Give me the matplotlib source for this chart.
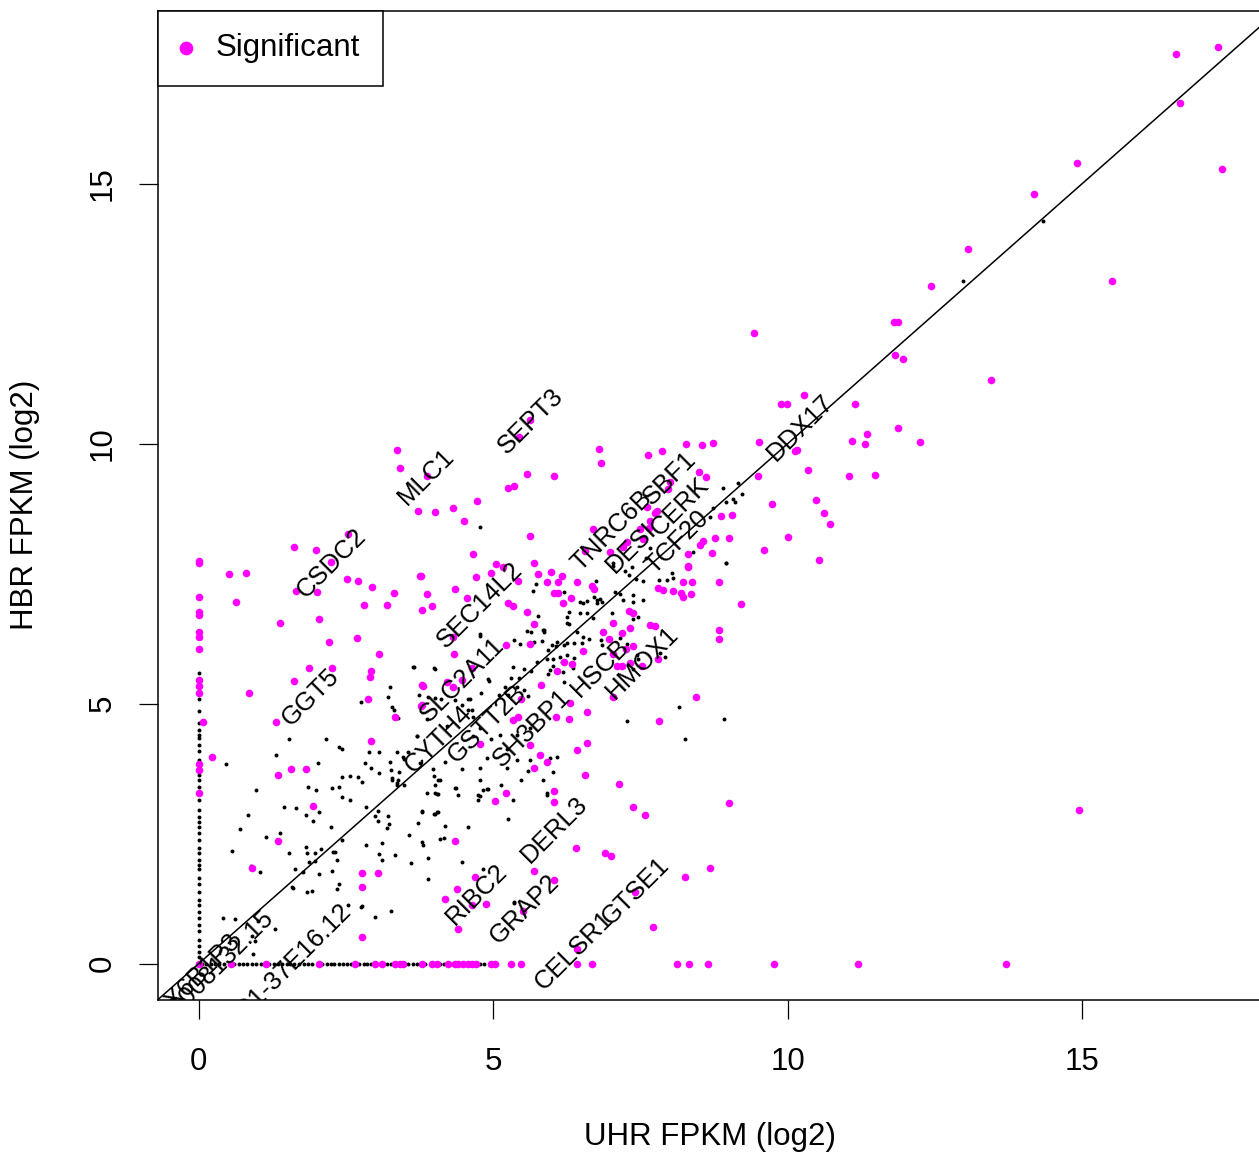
import matplotlib
matplotlib.use("Agg")
import matplotlib.pyplot as plt

plt.rcParams['font.family'] = ['Liberation Sans', 'DejaVu Sans']

# ================= data (log2 FPKM: UHR, HBR) =================
# ---- significant genes (magenta), (x, y) pairs by region ----
sig_upper_right = [(16.59, 17.50), (17.30, 17.63), (16.66, 16.56), (17.37, 15.29), (14.92, 15.40),
                   (14.18, 14.81), (13.06, 13.75), (12.43, 13.04), (15.50, 13.12), (9.42, 12.12),
                   (11.80, 12.33), (11.87, 12.33), (11.83, 11.71), (11.95, 11.63), (13.45, 11.23),
                   (10.27, 10.94), (9.88, 10.77), (9.98, 10.77), (11.15, 10.77), (11.88, 10.31),
                   (12.24, 10.04), (11.34, 10.19), (11.32, 10.0), (11.09, 10.06), (9.52, 10.04),
                   (10.15, 9.88), (10.34, 9.50), (11.49, 9.40), (11.04, 9.37), (9.49, 9.37),
                   (10.48, 8.92), (10.62, 8.67), (10.72, 8.46), (9.73, 8.83), (10.0, 8.21),
                   (9.59, 7.96), (10.53, 7.77), (9.20, 6.92), (8.83, 7.33), (8.83, 6.42),
                   (8.83, 6.25), (8.44, 5.13), (9.0, 3.08), (8.68, 1.83), (8.25, 1.67), (14.94, 2.96)]
sig_left = [(0.08, 4.65), (0.22, 3.98), (0.51, 7.50), (0.80, 7.52), (0.63, 6.96), (1.38, 6.56),
            (1.61, 8.02), (1.99, 7.96), (1.66, 7.17), (2.0, 7.15), (2.24, 7.73), (2.53, 8.27),
            (2.05, 6.62), (2.21, 6.19), (2.51, 7.40), (2.70, 7.35), (2.95, 7.25), (3.31, 7.12),
            (2.80, 6.90), (3.19, 6.90), (2.68, 6.27), (3.06, 5.96), (3.77, 7.46), (3.87, 7.10),
            (3.79, 6.81), (3.96, 6.87), (3.72, 8.71), (4.02, 8.69), (1.87, 5.69), (2.26, 5.69),
            (1.61, 5.44), (0.85, 5.21), (1.32, 4.65), (2.92, 5.62), (2.90, 5.52), (2.87, 5.08),
            (3.34, 4.75), (3.79, 5.35), (3.77, 4.96), (2.92, 4.29), (1.34, 3.62), (1.56, 3.75),
            (1.82, 3.75), (1.94, 3.04), (0.90, 1.83), (1.34, 2.35), (2.77, 1.75), (3.04, 1.75),
            (2.77, 0.52), (2.78, 1.48)]
sig_upper_mid = [(3.36, 9.87), (3.41, 9.54), (3.87, 9.37), (4.31, 8.77), (4.50, 8.52), (4.72, 8.90),
                 (4.65, 7.87), (4.35, 7.21), (5.43, 10.13), (5.62, 10.46), (5.25, 9.15), (5.35, 9.19),
                 (5.57, 9.42), (6.03, 9.37), (5.62, 8.23), (6.69, 8.35), (6.79, 9.90), (6.83, 9.63),
                 (7.62, 9.79), (7.86, 9.85), (8.27, 10.0), (8.54, 9.98), (8.73, 10.02), (10.12, 9.85),
                 (8.49, 9.46), (8.61, 9.35), (8.0, 9.27), (7.96, 9.13), (7.61, 8.79), (7.74, 8.67),
                 (7.78, 8.71), (7.66, 8.52), (7.64, 8.38), (7.49, 8.35), (7.54, 8.17), (7.28, 8.10),
                 (7.20, 8.02), (6.55, 7.94), (6.98, 7.92), (8.86, 8.60), (9.05, 8.63), (8.76, 8.19),
                 (9.0, 8.19), (8.56, 8.12), (8.51, 8.06), (8.71, 7.90), (8.30, 7.87), (8.30, 7.65)]
sig_mid = [(5.04, 7.69), (5.16, 7.63), (5.70, 7.71), (4.96, 7.52), (5.76, 7.50), (5.98, 7.54),
           (6.16, 7.46), (4.70, 7.44), (5.42, 7.35), (5.91, 7.33), (6.10, 7.33), (6.43, 7.33),
           (6.67, 7.27), (6.71, 7.21), (6.04, 7.13), (6.10, 7.13), (4.55, 7.04), (6.32, 7.04),
           (6.18, 6.94), (5.25, 6.94), (5.33, 6.88), (5.57, 6.77), (5.70, 6.54), (7.30, 6.79),
           (7.37, 6.75), (7.03, 6.56), (6.86, 6.37), (7.18, 6.35), (7.33, 6.46), (7.66, 6.52),
           (7.74, 6.50), (6.96, 6.25), (7.37, 6.10), (7.25, 6.06), (5.21, 6.12), (5.62, 6.15),
           (6.52, 6.02), (7.10, 5.73), (7.18, 5.73), (7.33, 5.79), (7.52, 5.73), (7.79, 5.85),
           (7.03, 5.96), (6.20, 5.81), (6.33, 5.77), (6.08, 5.63), (7.79, 7.23), (7.89, 7.19),
           (8.06, 7.17), (8.18, 7.13), (8.22, 7.33), (8.37, 7.33), (8.30, 7.63), (8.22, 7.06),
           (8.35, 7.10), (7.81, 4.67), (5.81, 5.35), (7.03, 5.13), (6.30, 5.02), (6.59, 4.83),
           (6.06, 4.75), (6.28, 4.71), (5.42, 4.75), (5.33, 4.69), (4.77, 4.23), (5.62, 4.21),
           (6.60, 4.25), (6.43, 4.10), (5.79, 4.02), (5.91, 3.87), (5.69, 3.77), (6.55, 3.63),
           (3.75, 7.46), (4.31, 6.29), (4.33, 5.96), (3.80, 5.33), (4.31, 5.31), (4.47, 5.46),
           (4.21, 5.42), (3.79, 4.98), (5.47, 5.08), (4.64, 5.69)]
sig_low_mid = [(7.13, 3.46), (6.04, 3.31), (6.03, 3.10), (5.21, 3.29), (5.03, 3.12), (7.37, 3.02),
               (7.57, 2.85), (4.35, 2.35), (6.40, 2.23), (6.89, 2.13), (7.0, 2.06), (5.70, 1.79),
               (6.04, 1.60), (4.69, 1.67), (4.38, 1.44), (4.18, 1.25), (4.87, 1.15), (4.64, 1.12),
               (4.41, 0.67), (7.40, 1.37), (7.71, 0.71), (6.42, 0.29), (5.50, 1.02)]
# significant genes not detected in HBR (y = 0) / not detected in UHR (x = 0)
sig_row0_x = [0.0, 0.54, 1.14, 2.04, 2.65, 3.0, 3.12, 3.34, 3.41, 3.46, 3.79, 3.96, 4.04, 4.23, 4.35,
              4.41, 4.48, 4.57, 4.64, 4.70, 4.97, 5.03, 5.31, 5.48, 6.42, 6.67, 8.12, 8.32, 8.64,
              9.76, 11.19, 13.7]
sig_col0_y = [7.75, 7.71, 7.06, 6.77, 6.71, 6.38, 6.29, 6.06, 5.46, 5.33, 5.21, 3.83, 3.73, 3.29]

# ---- non-significant genes (black) ----
ns_col0_y = [5.58, 5.08, 4.85, 4.63, 4.50, 4.40, 4.33, 4.21, 4.08, 3.92, 3.63, 3.54, 3.40, 3.15, 2.96,
             2.81, 2.73, 2.62, 2.52, 2.38, 2.23, 2.13, 2.0, 1.90, 1.81, 1.65, 1.54, 1.38, 1.23, 1.13,
             1.0, 0.88, 0.75, 0.62, 0.46, 0.33, 0.23, 0.12, 0.0]
ns_row0_x = [0.05, 0.12, 0.20, 0.28, 0.35, 0.43, 0.60, 0.68, 0.75, 0.82, 0.90, 0.97, 1.05, 1.10, 1.20,
             1.28, 1.35, 1.42, 1.50, 1.55, 1.62, 1.70, 1.78, 1.85, 1.92, 2.10, 2.18, 2.25, 2.30, 2.38,
             2.45, 2.52, 2.58, 2.72, 2.80, 2.86, 2.92, 3.07, 3.20, 3.27, 3.50, 3.56, 3.63, 3.70, 3.85,
             4.10, 4.17, 4.30, 4.62, 4.78, 4.85, 5.30]
ns_low = [(14.33, 14.29), (12.97, 13.12), (0.41, 0.88), (1.29, 0.67), (0.95, 0.44), (1.0, 0.81),
          (1.58, 1.48), (1.83, 1.37), (1.92, 1.40), (2.34, 1.44), (2.38, 1.54), (2.53, 1.12),
          (2.77, 1.10), (3.0, 0.90), (3.26, 1.02), (5.35, 1.17), (0.92, 0.19), (0.90, 0.54),
          (3.87, 3.29), (4.04, 3.27), (4.02, 3.44), (4.36, 3.37), (4.40, 3.25), (4.77, 3.23),
          (4.75, 3.15), (4.82, 3.33), (4.91, 3.35), (5.13, 3.44), (5.33, 3.15), (5.91, 3.25),
          (3.79, 2.92), (3.99, 2.88), (4.04, 2.92), (4.18, 2.65), (4.57, 2.62), (5.25, 2.79),
          (3.79, 2.33), (4.09, 2.40), (4.16, 2.42), (3.89, 2.04), (4.47, 1.96), (3.89, 1.63),
          (4.82, 1.81), (5.36, 1.19), (0.61, 0.85), (2.75, 1.08)]
ns_left = [(3.65, 5.71), (4.02, 5.67), (3.24, 5.31), (3.21, 5.13), (2.75, 5.04), (3.29, 4.94),
           (3.31, 4.88), (1.53, 4.31), (2.16, 4.31), (2.39, 4.17), (3.70, 4.38), (3.74, 5.17),
           (3.90, 5.12), (3.87, 4.71), (1.32, 4.02), (0.46, 3.83), (2.43, 4.13), (2.89, 4.06),
           (3.06, 4.06), (3.38, 4.73), (4.01, 5.10), (4.11, 5.08), (3.55, 4.06), (3.48, 3.94),
           (3.24, 3.87), (2.82, 3.85), (2.92, 3.77), (3.06, 3.67), (3.26, 3.73), (3.40, 3.69),
           (3.29, 3.56), (3.38, 3.54), (2.02, 3.85), (2.43, 3.58), (2.56, 3.60), (2.70, 3.58),
           (2.77, 3.50), (2.38, 3.40), (2.26, 3.37), (1.85, 3.40), (1.99, 3.33), (0.97, 3.33),
           (2.43, 3.21), (2.56, 3.15), (3.36, 3.44), (3.48, 3.44), (3.75, 3.85), (4.06, 3.27),
           (1.44, 3.02), (1.66, 3.0), (1.82, 2.85), (1.94, 2.75), (2.04, 2.92), (2.84, 3.02),
           (3.04, 2.94), (2.99, 2.83), (3.04, 2.75), (3.21, 2.83), (3.23, 2.69), (3.19, 2.60),
           (3.79, 2.94), (4.01, 2.87), (3.72, 2.71), (0.83, 2.85), (0.70, 2.58), (1.14, 2.44),
           (1.38, 2.52), (2.24, 2.63), (2.44, 2.38), (3.57, 2.48), (3.80, 2.29), (0.56, 2.17),
           (1.53, 2.12), (1.82, 2.25), (1.83, 2.12), (1.97, 2.13), (2.07, 2.21), (1.88, 1.96),
           (1.97, 1.98), (2.28, 2.15), (2.31, 2.15), (2.34, 2.0), (2.84, 2.29), (3.11, 2.31),
           (3.06, 2.10), (3.12, 2.0), (3.34, 2.08), (3.60, 1.94), (1.63, 1.81), (1.77, 1.77),
           (2.05, 1.73), (2.26, 1.79), (1.04, 1.77), (0.88, 1.88), (1.60, 1.46)]
ns_mid = [(5.72, 7.31), (5.67, 7.17), (6.21, 7.15), (6.74, 7.35), (7.03, 7.71), (7.30, 7.48),
          (7.35, 7.63), (7.42, 7.40), (7.54, 7.35), (8.03, 7.52), (8.06, 7.42), (7.81, 7.37),
          (7.95, 7.38), (8.95, 7.71), (6.47, 6.96), (6.52, 6.94), (6.60, 6.98), (6.76, 6.94),
          (6.77, 7.0), (6.84, 6.96), (6.28, 6.77), (6.47, 6.75), (6.59, 6.75), (6.71, 7.06),
          (7.15, 7.10), (7.20, 7.0), (7.37, 7.08), (7.37, 6.96), (7.54, 7.0), (6.26, 6.67),
          (6.28, 6.54), (7.01, 6.75), (6.69, 6.65), (7.37, 6.63), (7.45, 6.67), (6.42, 6.37),
          (6.52, 6.29), (6.50, 6.17), (6.62, 6.25), (6.37, 6.17), (6.21, 6.13), (6.25, 6.17),
          (6.08, 6.19), (6.06, 6.10), (5.99, 6.13), (5.93, 6.04), (5.82, 6.21), (5.87, 6.37),
          (5.86, 6.42), (5.65, 6.38), (5.57, 6.40), (5.70, 6.19), (5.45, 6.15), (5.36, 6.23),
          (5.33, 5.71), (5.31, 5.50), (5.53, 5.67), (5.64, 5.62), (5.43, 5.50), (5.40, 5.31),
          (5.20, 5.31), (5.25, 5.17), (5.09, 5.17), (5.53, 5.27), (5.59, 5.15), (5.74, 5.81),
          (5.91, 5.85), (6.01, 5.85), (6.13, 5.90), (6.25, 5.94), (6.37, 5.88), (6.16, 5.81),
          (5.96, 5.65), (5.93, 5.56), (6.01, 5.73), (6.18, 5.60), (6.21, 5.42), (6.35, 5.69),
          (7.15, 6.27), (7.27, 6.15), (6.83, 6.23), (6.84, 6.12), (7.44, 5.94), (7.45, 5.85),
          (7.83, 5.98), (7.91, 5.90), (7.37, 5.67), (4.80, 5.21), (4.91, 5.48), (4.77, 6.31),
          (3.99, 5.69), (4.47, 4.98), (4.60, 5.08), (4.64, 4.88), (4.65, 4.75), (4.77, 4.54),
          (4.65, 4.37), (4.18, 3.88), (3.97, 3.75), (4.09, 3.54), (4.01, 3.29), (4.06, 2.92),
          (4.47, 3.75), (4.77, 3.77), (4.89, 3.96), (4.97, 4.31), (5.11, 4.40), (5.23, 4.12),
          (5.23, 3.77), (5.40, 3.92), (5.62, 3.92), (5.40, 4.40), (5.62, 4.54), (4.77, 3.54),
          (4.89, 3.35), (4.74, 3.25), (4.35, 3.37), (5.48, 3.54), (5.84, 3.54), (5.91, 3.29),
          (5.59, 3.71), (6.01, 3.69), (6.08, 3.98), (5.96, 3.96), (7.27, 4.67), (8.15, 4.94),
          (8.25, 4.31), (8.91, 4.71)]
ns_upper = [(8.90, 9.15), (9.15, 9.25), (9.07, 8.94), (9.10, 8.87), (9.22, 9.04), (8.96, 8.87),
            (8.73, 8.77), (8.68, 8.58), (8.39, 7.92), (8.96, 7.71), (7.23, 7.56), (7.06, 7.15),
            (6.81, 7.02), (7.59, 7.81), (7.66, 8.0), (7.03, 7.65), (4.77, 8.40), (5.76, 6.69),
            (5.84, 6.42), (6.25, 6.56), (4.77, 6.33), (3.63, 5.71), (4.92, 5.44), (4.35, 5.06),
            (4.58, 5.08), (4.57, 4.88), (3.70, 4.37), (4.21, 4.56), (3.36, 4.06), (3.46, 3.98),
            (3.28, 3.54), (3.36, 3.48), (3.99, 3.60), (4.06, 3.54)]

# ---- labelled genes: label anchor positions ----
label_names = ["SEPT3", "MLC1", "DDX17", "CSDC2", "TNRC6B", "SBF1", "DESI", "CERK", "TCF20",
               "SEC14L2", "SLC2A11", "GGT5", "CYTH4", "GSTT2B", "SH3BP1", "HSCB", "HMOX1",
               "DERL3", "RIBC2", "GRAP2", "CELSR1", "GTSE1", "AC008132.15", "RP1-37E16.12",
               "COX6B1P3"]
label_x = [5.64, 3.87, 10.22, 2.26, 7.01, 8.0, 7.35, 8.18, 8.13,
           4.77, 4.48, 1.90, 4.07, 4.89, 5.65, 6.81, 7.54,
           6.04, 4.72, 5.53, 6.37, 7.42, 0.27, 1.51, -0.15]
label_y = [10.44, 9.37, 10.31, 7.69, 8.33, 9.33, 8.0, 8.79, 8.10,
           6.90, 5.46, 5.13, 4.31, 4.62, 4.52, 5.69, 5.79,
           2.58, 1.33, 1.04, 0.25, 1.40, -0.13, -0.06, -0.40]

x_ticks = [0, 5, 10, 15]
y_ticks = [0, 5, 10, 15]

# ---- assemble ----
sig_pairs = sig_upper_right + sig_left + sig_upper_mid + sig_mid + sig_low_mid
sig_x = [p[0] for p in sig_pairs] + sig_row0_x + [0.0] * len(sig_col0_y)
sig_y = [p[1] for p in sig_pairs] + [0.0] * len(sig_row0_x) + sig_col0_y
ns_pairs = ns_low + ns_left + ns_mid + ns_upper
ns_x = [p[0] for p in ns_pairs] + ns_row0_x + [0.0] * len(ns_col0_y)
ns_y = [p[1] for p in ns_pairs] + [0.0] * len(ns_row0_x) + ns_col0_y

# ================= figure =================
W, H = 1259, 1155
fig = plt.figure(figsize=(W / 100, H / 100), dpi=100)
ax = fig.add_axes([157.5 / W, (H - 1000) / H, (1263 - 157.5) / W, (1000 - 10.5) / H])
ax.set_xlim(-0.70, 18.07)
ax.set_ylim(-0.70, 18.33)

ax.scatter(ns_x, ns_y, s=8, c='black', linewidths=0, zorder=2)
ax.scatter(sig_x, sig_y, s=30, c='#FF00FF', linewidths=0, zorder=3, label='Significant')
ax.plot([-1, 20], [-1, 20], color='black', lw=1.1, zorder=4)

for n, lx, ly in zip(label_names, label_x, label_y):
    ax.text(lx, ly, n, rotation=45, ha='center', va='center', fontsize=18.5,
            rotation_mode='anchor', clip_on=True, zorder=5)

for sp in ax.spines.values():
    sp.set_linewidth(1.1)
ax.set_xticks(x_ticks)
ax.set_yticks(y_ticks)
ax.tick_params(axis='both', direction='out', length=13.5, width=0.9, labelsize=22.5)
ax.tick_params(axis='x', pad=20)
ax.tick_params(axis='y', pad=15)
for lab in ax.get_yticklabels():
    lab.set_rotation(90)
    lab.set_va('center')

fig.text(710 / W, (H - 1137) / H, 'UHR FPKM (log2)', ha='center', va='center', fontsize=22.5)
fig.text(25 / W, (H - 505) / H, 'HBR FPKM (log2)', ha='center', va='center', rotation=90,
         fontsize=22.5)

leg = ax.legend(loc='upper left', bbox_to_anchor=(0, 1), borderaxespad=0, fancybox=False,
                edgecolor='black', framealpha=1, fontsize=22.5, handletextpad=0.75,
                borderpad=0.72, handlelength=0.4, scatterpoints=1, markerscale=1.8)
leg.get_frame().set_linewidth(1.1)

fig.savefig('out.png', dpi=100)
